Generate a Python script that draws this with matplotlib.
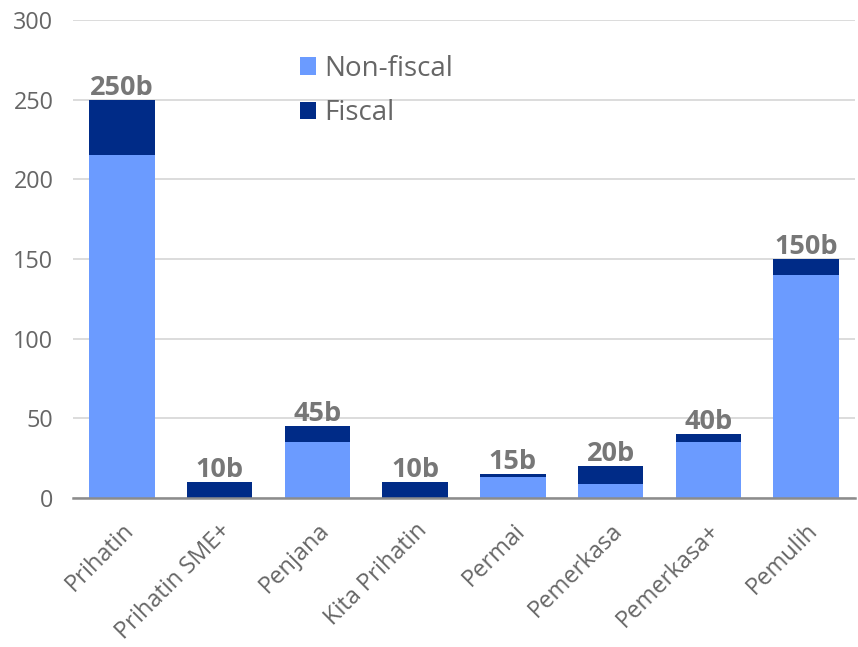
import matplotlib.pyplot as plt
import numpy as np

plt.rcParams['font.family'] = ['Open Sans', 'DejaVu Sans']

schemes = ['Prihatin', 'Prihatin SME+', 'Penjana', 'Kita Prihatin',
           'Permai', 'Pemerkasa', 'Pemerkasa+', 'Pemulih']
non_fiscal = [215, 0, 35, 0, 13, 9, 35, 140]
fiscal = [35, 10, 10, 10, 2, 11, 5, 10]
totals = [250, 10, 45, 10, 15, 20, 40, 150]

light = '#6b9bff'
dark = '#002b87'
grey = '#666666'

fig = plt.figure(figsize=(8.58, 6.47), dpi=100)
ax = fig.add_axes([0.085, 0.2303, 0.9115, 0.7387])

x = np.arange(len(schemes))
w = 0.67
ax.bar(x, non_fiscal, w, color=light, label='Non-fiscal', zorder=3)
ax.bar(x, fiscal, w, bottom=non_fiscal, color=dark, label='Fiscal', zorder=3)

for xi, t in zip(x, totals):
    ax.text(xi, t - 0.5, f'{t}b', ha='center', va='bottom', fontsize=19.5,
            fontweight='bold', color='#777777', zorder=4)

ax.set_xlim(-0.5, len(schemes) - 0.5)
ax.set_ylim(0, 300)
ax.set_yticks(range(0, 301, 50))
ax.grid(axis='y', color='#d9d9d9', linewidth=1.3, zorder=0)
for s in ['top', 'right', 'left']:
    ax.spines[s].set_visible(False)
ax.spines['bottom'].set_color('#8c8c8c')
ax.spines['bottom'].set_linewidth(1.8)
ax.spines['bottom'].set_zorder(5)
ax.tick_params(axis='both', length=0, labelsize=16.8, labelcolor=grey)
ax.tick_params(axis='y', pad=14)
ax.set_xticks(x)
ax.set_xticklabels(schemes, rotation=45, ha='right', rotation_mode='anchor')
ax.tick_params(axis='x', pad=15, labelsize=17)

handles, labels = ax.get_legend_handles_labels()
ax.legend(handles, labels, loc='upper left', bbox_to_anchor=(0.258, 0.98),
          frameon=False, fontsize=20, labelcolor=grey, handlelength=0.6,
          handleheight=0.6, handletextpad=0.3, labelspacing=0.6)

fig.savefig('out.png', dpi=100)
